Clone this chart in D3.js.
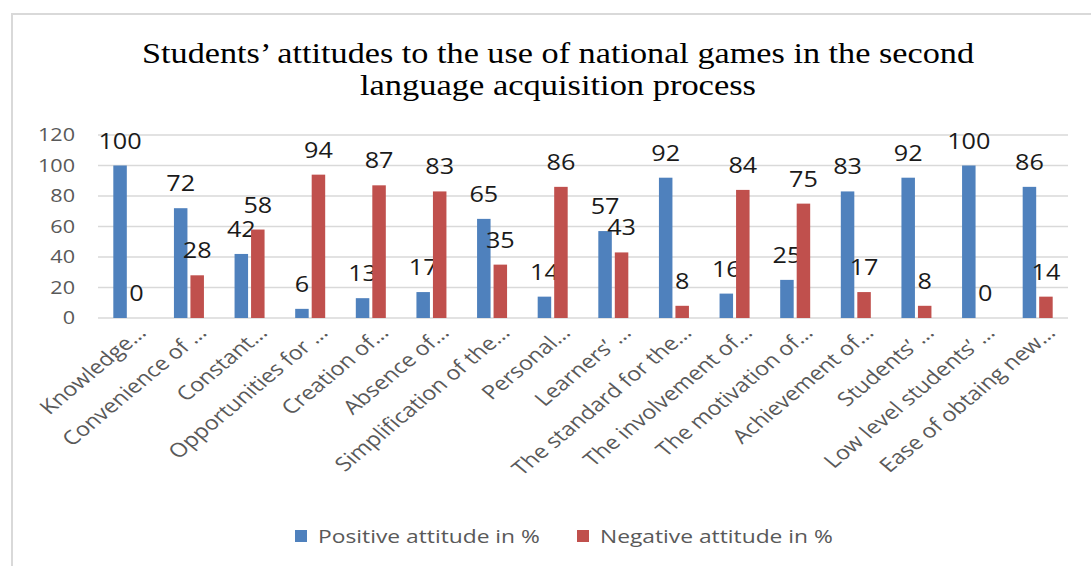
<!DOCTYPE html>
<html><head><meta charset="utf-8">
<script src="https://cdn.jsdelivr.net/npm/d3@7"></script>
<style>
html,body{margin:0;padding:0;background:#fff;}
svg{display:block;}
</style></head>
<body>
<svg id="chart" width="1091" height="566"></svg>
<script>
const categories = ["Knowledge…","Convenience of …","Constant…","Opportunities for …","Creation of…","Absence of…","Simplification of the…","Personal…","Learners’ …","The standard for the…","The involvement of…","The motivation of…","Achievement of…","Students’ …","Low level students’ …","Ease of obtaing new…"];
const positive = [100,72,42,6,13,17,65,14,57,92,16,25,83,92,100,86];
const negative = [0,28,58,94,87,83,35,86,43,8,84,75,17,8,0,14];
const yTicks = [0,20,40,60,80,100,120];
const seriesNames = ["Positive attitude in %","Negative attitude in %"];
const titleLines = ["Students’ attitudes to the use of national games in the second","language acquisition process"];

const colors = ["#4F81BD","#C0504D"];
const SX = 1.2; // horizontal stretch of the source image
const font = "'Open Sans', sans-serif";

const svg = d3.select("#chart");
svg.append("rect").attr("x",0).attr("y",0).attr("width",1091).attr("height",566).attr("fill","#fff");
// outer frame
svg.append("rect").attr("x",12).attr("y",14).attr("width",1200).attr("height",700)
  .attr("fill","none").attr("stroke","#d9d9d9").attr("stroke-width",2);

const x = d3.scaleBand().domain(categories).range([98,1068]).paddingInner(0).paddingOuter(0);
const y = d3.scaleLinear().domain([0,120]).range([318,135]);

// title
const titleWidths = [832,396];
svg.append("g").selectAll("text").data(titleLines).join("text")
  .attr("x",558).attr("y",(d,i)=>63+i*32)
  .attr("text-anchor","middle")
  .attr("font-family","'Liberation Serif','Times New Roman',serif")
  .attr("font-size",30).attr("fill","#000")
  .attr("textLength",(d,i)=>titleWidths[i]).attr("lengthAdjust","spacingAndGlyphs")
  .text(d=>d);

// gridlines
svg.append("g").selectAll("line").data(yTicks).join("line")
  .attr("x1",98).attr("x2",1068)
  .attr("y1",d=>y(d)).attr("y2",d=>y(d))
  .attr("stroke","#d9d9d9").attr("stroke-width",1.5);

// y tick labels
svg.append("g").selectAll("g").data(yTicks).join("g")
  .attr("transform",d=>`translate(75,${y(d)})`)
  .append("text").attr("transform",`scale(${SX},1)`)
  .attr("text-anchor","end").attr("dy","0.36em")
  .attr("font-family",font).attr("font-size",18).attr("fill","#595959")
  .text(d=>d);

const bw = 13.5;
const series = [positive, negative];
const offsets = [-15, 1.5];
series.forEach((vals,si)=>{
  const g = svg.append("g");
  g.selectAll("rect").data(vals).join("rect")
    .attr("x",(d,i)=>x(categories[i])+x.bandwidth()/2+offsets[si])
    .attr("width",bw)
    .attr("y",d=>y(d)).attr("height",d=>y(0)-y(d))
    .attr("fill",colors[si]);
  g.selectAll("g").data(vals).join("g")
    .attr("transform",(d,i)=>`translate(${x(categories[i])+x.bandwidth()/2+offsets[si]+bw/2},${y(d)-17})`)
    .append("text").attr("transform",`scale(${SX},1)`)
    .attr("text-anchor","middle")
    .attr("font-family",font).attr("font-size",21).attr("fill","#1a1a1a")
    .text(d=>d);
});

// category labels
svg.append("g").selectAll("g").data(categories).join("g")
  .attr("transform",d=>`translate(${x(d)+x.bandwidth()/2+19},334) scale(${SX},1) rotate(-45)`)
  .append("text").attr("text-anchor","end")
  .attr("font-family",font).attr("font-size",19.5).attr("fill","#595959")
  .text(d=>d);

// legend
const legX = [295,577];
const lg = svg.append("g");
seriesNames.forEach((n,i)=>{
  lg.append("rect").attr("x",legX[i]).attr("y",530).attr("width",12).attr("height",12).attr("fill",colors[i]);
  lg.append("g").attr("transform",`translate(${legX[i]+23},543)`)
    .append("text").attr("transform",`scale(${SX},1)`)
    .attr("font-family",font).attr("font-size",19).attr("fill","#595959")
    .text(n);
});
</script>
</body></html>
